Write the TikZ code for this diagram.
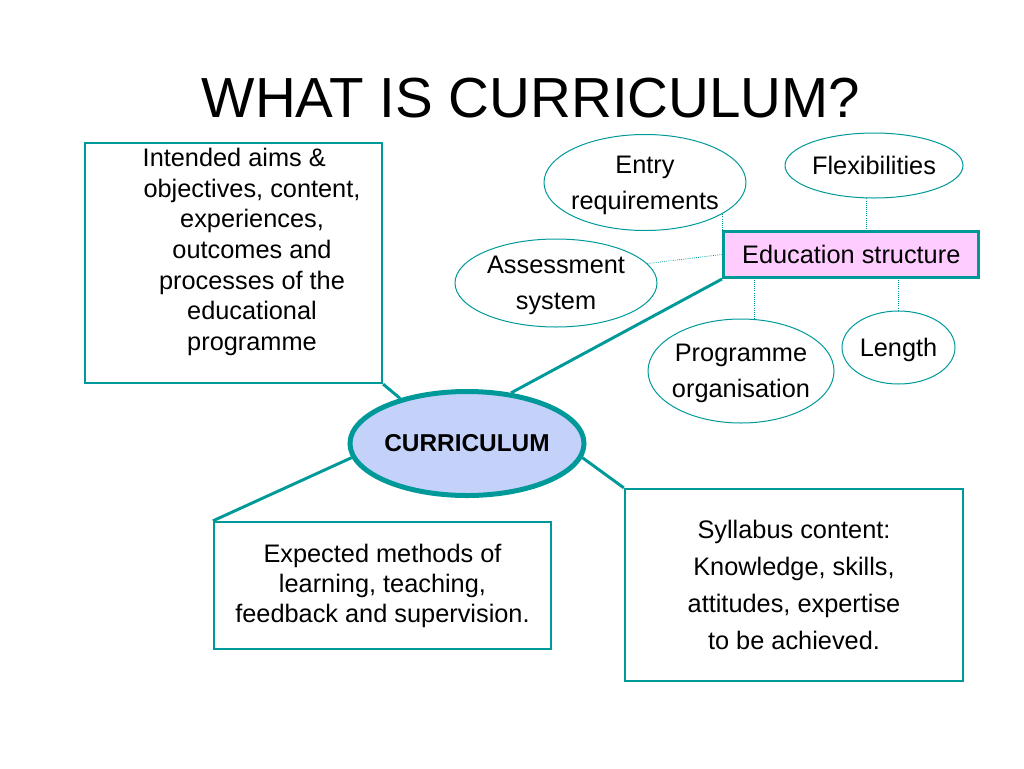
\documentclass[tikz,border=0pt]{standalone}
\usepackage{fontspec}
\setmainfont{Liberation Sans}
\usetikzlibrary{shapes.geometric}
\definecolor{curteal}{RGB}{0,153,153}
\definecolor{curblue}{RGB}{196,210,250}
\definecolor{curpink}{RGB}{255,204,255}
\begin{document}
\begin{tikzpicture}[x=0.75pt,y=-0.75pt]
            \tikzstyle{bulle}=[ellipse,draw=curteal,line width=0.75pt,inner sep=-15pt,text depth=0pt,align=center,font=\fontsize{19}{27}\selectfont]
            \tikzset{cadre/.style = {rectangle,draw=curteal,line width=1.7pt,align=center,inner sep=0pt,font=\fontsize{19}{23}\selectfont}}
            \tikzset{lien/.style = {curteal,line width=2.2pt}}
            \tikzset{pointille/.style = {curteal,line width=0.6pt,densely dotted}}
            \useasboundingbox (0,0) rectangle (1024,768);
            \node[font=\fontsize{42.4}{50}\selectfont,anchor=base] (titre) at (531,117.5) {WHAT IS CURRICULUM?};
            \node[cadre,minimum width=222.75pt,minimum height=180pt] (aims) at (233.5,263) {};
            \node[align=center,font=\fontsize{19}{23}\selectfont] (aimstxt) at (252,252) {Intended aims \&\hspace*{1.4em}\\objectives, content,\\experiences,\\outcomes and\\processes of the\\educational\\programme};
            \node[bulle,minimum width=151.5pt,minimum height=72pt] (entry) at (645,182.5) {Entry\\requirements};
            \node[bulle,minimum width=133.5pt,minimum height=48.75pt] (flex) at (874,165.5) {Flexibilities};
            \node[bulle,minimum width=151.5pt,minimum height=66pt] (assess) at (556,283) {Assessment\\system};
            \node[bulle,minimum width=139.5pt,minimum height=78pt] (prog) at (741,371) {Programme\\organisation};
            \node[bulle,minimum width=84.75pt,minimum height=54.75pt] (length) at (898.5,347.5) {Length};
            \node[cadre,line width=2.25pt,fill=curpink,minimum width=191.6pt,minimum height=34.5pt] (edu) at (851.25,254.5) {Education structure};
            \node[ellipse,draw=curteal,line width=3.75pt,fill=curblue,minimum width=175.5pt,minimum height=78pt,inner sep=-5pt,font=\bfseries\fontsize{18.3}{22}\selectfont] (curr) at (467,443.5) {CURRICULUM};
            \node[cadre,minimum width=252.75pt,minimum height=95.25pt,font=\fontsize{19}{22.5}\selectfont] (plan) at (382.5,585.5) {Expected methods of\\learning, teaching,\\feedback and supervision.};
            \node[cadre,minimum width=253.5pt,minimum height=144pt,text depth=0pt,font=\fontsize{19}{27.75}\selectfont] (syll) at (794,585) {Syllabus content:\\Knowledge, skills,\\attitudes, expertise\\to be achieved.};
            \draw[lien] (aims.south east) -- (curr.146);
            \draw[lien] (edu.south west) -- (curr.49);
            \draw[lien] (curr.187) -- (plan.north west);
            \draw[lien] (curr.353) -- (syll.north west);
            \draw[pointille] (edu.north west) -- (edu.north west |- entry.-22);
            \draw[pointille] (flex.257) -- (flex.257 |- edu.north);
            \draw[pointille] (assess.12) -- (edu.west);
            \draw[pointille] (prog.76) -- (prog.76 |- edu.south);
            \draw[pointille] (length.north) -- (length.north |- edu.south);
        \end{tikzpicture}
\end{document}
